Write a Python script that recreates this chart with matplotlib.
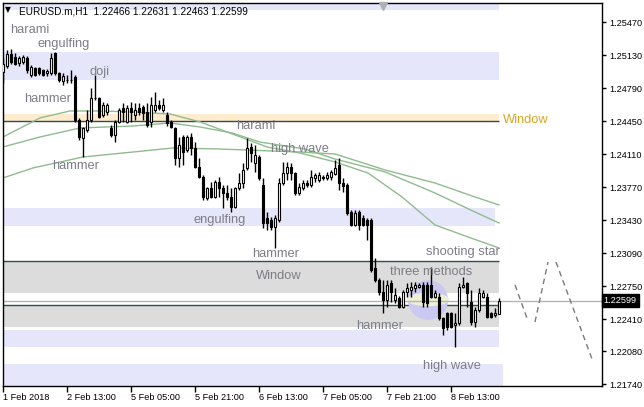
import numpy as np
import matplotlib.pyplot as plt
import matplotlib.transforms as mtransforms
from matplotlib.patches import Ellipse

plt.rcParams['font.family'] = ['Liberation Sans', 'DejaVu Sans']

# EURUSD.m H1 bars
opens = [1.24955, 1.25017, 1.25141, 1.25110, 1.25048, 1.25058, 1.25100, 1.24925, 1.24997, 1.24997,
         1.24976, 1.24945, 1.24945, 1.25151, 1.24945, 1.24863, 1.24873, 1.24873, 1.24904, 1.24461,
         1.24276, 1.24358, 1.24461, 1.24688, 1.24688, 1.24512, 1.24543, 1.24379, 1.24307, 1.24441,
         1.24585, 1.24441, 1.24585, 1.24512, 1.24585, 1.24595, 1.24543, 1.24441, 1.24564, 1.24615,
         1.24564, 1.24512, 1.24441, 1.24379, 1.24070, 1.24286, 1.24152, 1.24286, 1.24173, 1.23977,
         1.23874, 1.23658, 1.23761, 1.23668, 1.23823, 1.23761, 1.23709, 1.23668, 1.23565, 1.23761,
         1.23812, 1.23967, 1.24183, 1.24018, 1.24080, 1.23792, 1.23452, 1.23431, 1.23359, 1.23431,
         1.23812, 1.23915, 1.23977, 1.23915, 1.23709, 1.23761, 1.23812, 1.23792, 1.23864, 1.23843,
         1.23874, 1.23864, 1.23874, 1.23905, 1.23998, 1.23812, 1.23792, 1.23513, 1.23380, 1.23513,
         1.23452, 1.23431, 1.23431, 1.22937, 1.22813, 1.22689, 1.22607, 1.22782, 1.22607, 1.22628,
         1.22535, 1.22689, 1.22710, 1.22731, 1.22741, 1.22762, 1.22762, 1.22762, 1.22638, 1.22638,
         1.22422, 1.22473, 1.22473, 1.22350, 1.22370, 1.22741, 1.22782, 1.22586, 1.22380, 1.22504,
         1.22638, 1.22638, 1.22473, 1.22453, 1.22466]
highs = [1.25100, 1.25182, 1.25192, 1.25151, 1.25120, 1.25131, 1.25120, 1.25028, 1.25007, 1.25007,
         1.24986, 1.24986, 1.25151, 1.25161, 1.24955, 1.24945, 1.24925, 1.24976, 1.24925, 1.24482,
         1.24389, 1.24564, 1.24791, 1.24925, 1.24698, 1.24646, 1.24636, 1.24410, 1.24461, 1.24585,
         1.24636, 1.24615, 1.24646, 1.24636, 1.24636, 1.24615, 1.24636, 1.24698, 1.24749, 1.24667,
         1.24688, 1.24543, 1.24461, 1.24389, 1.24286, 1.24307, 1.24307, 1.24327, 1.24234, 1.24070,
         1.23895, 1.23771, 1.23823, 1.23843, 1.23874, 1.23792, 1.23792, 1.23761, 1.23771, 1.23915,
         1.24018, 1.24276, 1.24224, 1.24204, 1.24100, 1.23864, 1.23513, 1.23462, 1.23483, 1.23864,
         1.24029, 1.24029, 1.24018, 1.23926, 1.23812, 1.23843, 1.23843, 1.23946, 1.23915, 1.23926,
         1.23895, 1.23926, 1.23946, 1.24049, 1.24070, 1.23864, 1.23812, 1.23534, 1.23534, 1.23534,
         1.23483, 1.23452, 1.23452, 1.23040, 1.22834, 1.22813, 1.22813, 1.22813, 1.22731, 1.22648,
         1.22710, 1.22782, 1.22792, 1.22792, 1.22782, 1.22792, 1.22792, 1.22947, 1.22710, 1.22679,
         1.22432, 1.22483, 1.22483, 1.22473, 1.22782, 1.22844, 1.22792, 1.22710, 1.22535, 1.22731,
         1.22710, 1.22679, 1.22483, 1.22525, 1.22631]
lows = [1.24842, 1.24997, 1.25038, 1.25028, 1.25017, 1.25038, 1.24945, 1.24904, 1.24914, 1.24925,
        1.24914, 1.24914, 1.24925, 1.24925, 1.24852, 1.24822, 1.24842, 1.24842, 1.24441, 1.24255,
        1.24080, 1.24337, 1.24441, 1.24667, 1.24482, 1.24492, 1.24512, 1.24286, 1.24234, 1.24430,
        1.24441, 1.24430, 1.24441, 1.24461, 1.24512, 1.24461, 1.24389, 1.24389, 1.24543, 1.24564,
        1.24543, 1.24399, 1.24379, 1.23998, 1.23977, 1.23998, 1.24131, 1.24100, 1.23967, 1.23864,
        1.23637, 1.23637, 1.23658, 1.23658, 1.23668, 1.23555, 1.23637, 1.23513, 1.23555, 1.23740,
        1.23761, 1.23946, 1.24029, 1.23926, 1.23843, 1.23349, 1.23328, 1.23328, 1.23143, 1.23410,
        1.23792, 1.23843, 1.23843, 1.23689, 1.23689, 1.23740, 1.23771, 1.23771, 1.23823, 1.23823,
        1.23843, 1.23843, 1.23843, 1.23895, 1.23740, 1.23719, 1.23483, 1.23369, 1.23369, 1.23328,
        1.23369, 1.23225, 1.22895, 1.22792, 1.22659, 1.22473, 1.22535, 1.22586, 1.22576, 1.22525,
        1.22525, 1.22638, 1.22638, 1.22689, 1.22731, 1.22535, 1.22535, 1.22628, 1.22628, 1.22401,
        1.22247, 1.22298, 1.22319, 1.22123, 1.22350, 1.22731, 1.22535, 1.22350, 1.22329, 1.22483,
        1.22628, 1.22422, 1.22422, 1.22432, 1.22463]
closes = [1.25038, 1.25141, 1.25058, 1.25038, 1.25100, 1.25110, 1.24976, 1.25007, 1.24925, 1.24945,
          1.24925, 1.24966, 1.25100, 1.24945, 1.24873, 1.24914, 1.24868, 1.24878, 1.24461, 1.24286,
          1.24379, 1.24461, 1.24688, 1.24683, 1.24492, 1.24615, 1.24615, 1.24307, 1.24441, 1.24564,
          1.24543, 1.24585, 1.24543, 1.24564, 1.24543, 1.24533, 1.24410, 1.24615, 1.24615, 1.24585,
          1.24615, 1.24430, 1.24389, 1.24070, 1.24204, 1.24131, 1.24286, 1.24173, 1.23977, 1.23874,
          1.23668, 1.23761, 1.23668, 1.23823, 1.23761, 1.23709, 1.23668, 1.23565, 1.23761, 1.23812,
          1.23946, 1.24173, 1.24121, 1.24100, 1.23864, 1.23400, 1.23400, 1.23359, 1.23452, 1.23812,
          1.23915, 1.23977, 1.23915, 1.23709, 1.23771, 1.23812, 1.23792, 1.23874, 1.23895, 1.23895,
          1.23864, 1.23895, 1.23926, 1.23967, 1.23812, 1.23781, 1.23503, 1.23380, 1.23503, 1.23380,
          1.23380, 1.23380, 1.22916, 1.22813, 1.22689, 1.22607, 1.22762, 1.22689, 1.22659, 1.22535,
          1.22689, 1.22731, 1.22741, 1.22762, 1.22762, 1.22586, 1.22576, 1.22638, 1.22679, 1.22422,
          1.22319, 1.22329, 1.22329, 1.22370, 1.22741, 1.22762, 1.22679, 1.22380, 1.22504, 1.22679,
          1.22679, 1.22432, 1.22432, 1.22473, 1.22599]

# moving averages, sampled at bar positions
ma_fast_x = [0, 9.25, 16.75, 24.25, 32.5, 41.75, 49.25, 60, 66, 74.25, 83, 91.25, 99.75, 108, 116.25, 124]
ma_fast = [1.24286, 1.24482, 1.24554, 1.24554, 1.24543, 1.24523, 1.24441, 1.24276, 1.24183, 1.24121,
           1.24029, 1.23915, 1.23668, 1.23380, 1.23256, 1.23143]
ma_mid_x = [0, 9.25, 19.25, 32.5, 41.75, 49.25, 57.25, 64.25, 75.5, 83, 95.5, 108, 118, 124]
ma_mid = [1.24183, 1.24286, 1.24379, 1.24399, 1.24430, 1.24389, 1.24327, 1.24234, 1.24162, 1.24059,
          1.23926, 1.23709, 1.23513, 1.23400]
ma_slow_x = [0, 7.5, 20, 32.5, 42.5, 54.25, 74.25, 83, 95.5, 108, 118, 124]
ma_slow = [1.23864, 1.23967, 1.24080, 1.24131, 1.24173, 1.24162, 1.24131, 1.24111, 1.23946, 1.23812,
           1.23668, 1.23586]

# price zones (low, high, last bar)
lav_lo = [1.25594, 1.24873, 1.23369, 1.22123, 1.21600]
lav_hi = [1.25800, 1.25161, 1.23555, 1.22298, 1.21948]
lav_end = [124, 124, 123, 124, 125]
gray_lo = [1.22679, 1.22329]
gray_hi = [1.23009, 1.22556]
window_lo, window_hi = 1.24451, 1.24523

# projection zigzag
proj_x = [[128, 131.25], [133, 136.25], [138.25, 147.25]]
proj_y = [[1.22762, 1.22391], [1.22380, 1.22998], [1.22998, 1.21999]]

tick_pos = [0, 16, 32, 48, 64, 80, 96, 112]
tick_labels = ['1 Feb 2018', '2 Feb 13:00', '5 Feb 05:00', '5 Feb 21:00',
               '6 Feb 13:00', '7 Feb 05:00', '7 Feb 21:00', '8 Feb 13:00']
price_ticks = [1.21740, 1.22080, 1.22410, 1.22750, 1.23090, 1.23430,
               1.23770, 1.24110, 1.24450, 1.24790, 1.25130, 1.25470]

fig = plt.figure(figsize=(6.44, 4.07), dpi=100)
ax = fig.add_axes([3/644, 21/407, 599/644, 383/407])
ax.set_xlim(0, 149.75)
ax.set_ylim(1.21721, 1.25666)

# zones
for lo, hi, e in zip(lav_lo, lav_hi, lav_end):
    ax.fill_between([-1, e], lo, hi, color='#E6E6FA', lw=0, zorder=1.2)
ax.fill_between([-1, 124], window_lo, window_hi, color='#FFEBCD', lw=0, zorder=1)
ax.hlines(window_lo, -1, 124, color='#2F4F4F', lw=1, zorder=1.5)
for lo, hi in zip(gray_lo, gray_hi):
    ax.fill_between([-1, 124], lo, hi, color='#DCDCDC', lw=0, zorder=1)
    ax.hlines(hi, -1, 124, color='#2F4F4F', lw=1, zorder=1.5)

# three methods marks
ax.add_patch(Ellipse((106.25, 1.22607), 10, 0.0041, color='#C9C9F2', lw=0, zorder=1.6))
ax.add_patch(Ellipse((106.25, 1.22612), 10.5, 0.0014, color='#EEF0D6', lw=0, zorder=1.7))

# moving averages
for mx, my in [(ma_fast_x, ma_fast), (ma_mid_x, ma_mid), (ma_slow_x, ma_slow)]:
    ax.plot(mx, my, color='#8FBC8F', lw=1, zorder=2)

# current price line
ax.axhline(closes[-1], color='#B4B4B4', lw=1, zorder=2.2)

# candles
o = np.array(opens); h = np.array(highs); l = np.array(lows); c = np.array(closes)
idx = np.arange(len(o))
up = c >= o
ax.vlines(idx, l, h, color='black', lw=1, zorder=3)
body = np.maximum(np.abs(c - o), 0.00003)
ax.bar(idx, body, bottom=np.minimum(o, c), width=0.62,
       color=np.where(up, 'white', 'black'), edgecolor='black', linewidth=0.8, zorder=4)

# projection
for px, py in zip(proj_x, proj_y):
    ax.plot(px, py, color='#7A7A7A', lw=1, ls=(0, (4, 3)), zorder=3)

# pattern labels
lab = dict(color='#7D7D88', fontsize=9.3, va='center', ha='left', zorder=6)
ax.text(1.75, 1.25388, 'harami', **lab)
ax.text(8.75, 1.25244, 'engulfing', **lab)
ax.text(21.5, 1.24955, 'doji', **lab)
ax.text(5.25, 1.24677, 'hammer', **lab)
ax.text(12.25, 1.23987, 'hammer', **lab)
ax.text(58.25, 1.24399, 'harami', **lab)
ax.text(67, 1.24162, 'high wave', **lab)
ax.text(47.75, 1.23431, 'engulfing', **lab)
ax.text(62.25, 1.23081, 'hammer', **lab)
ax.text(63.25, 1.22854, 'Window', **lab)
ax.text(96.75, 1.22895, 'three methods', **lab)
ax.text(105.75, 1.23101, 'shooting star', **lab)
ax.text(105, 1.21927, 'high wave', **lab)
lab_low = dict(lab); lab_low['zorder'] = 1.1
ax.text(88.25, 1.22339, 'hammer', **lab_low)
ax.text(125, 1.24461, 'Window', color='#DAA520', fontsize=9.3, va='center', ha='left', zorder=6)

# title
ax.text(2/599, 1 - 7/383, '\u25BC', transform=ax.transAxes, fontsize=5.5, va='center',
        ha='left', family='DejaVu Sans', zorder=7)
ax.text(16/599, 1 - 8/383, 'EURUSD.m,H1  1.22466 1.22631 1.22463 1.22599',
        transform=ax.transAxes, fontsize=7.2, va='center', ha='left', zorder=7)
ax.plot([95], [1 - 3/383], transform=mtransforms.blended_transform_factory(ax.transData, ax.transAxes),
        marker='v', color='#B0B0B0', ms=6, clip_on=False, zorder=7)

# axes
ax.yaxis.tick_right()
ax.set_yticks(price_ticks)
ax.set_yticklabels(['%.5f' % p for p in price_ticks])
ax.set_xticks(tick_pos)
ax.set_xticklabels(tick_labels, ha='left')
ax.tick_params(axis='y', direction='out', length=3, width=1, labelsize=6.6, pad=2)
ax.tick_params(axis='x', direction='out', length=4, width=1, labelsize=6.6, pad=1)
for s in ax.spines.values():
    s.set_linewidth(1)
    s.set_color('black')

ax.text(1.003, closes[-1], '%.5f' % closes[-1],
        transform=mtransforms.blended_transform_factory(ax.transAxes, ax.transData),
        color='white', fontsize=6.6, va='center', ha='left', zorder=8, clip_on=False,
        bbox=dict(facecolor='black', edgecolor='black', pad=1.6))

fig.savefig('out.png', dpi=100)
